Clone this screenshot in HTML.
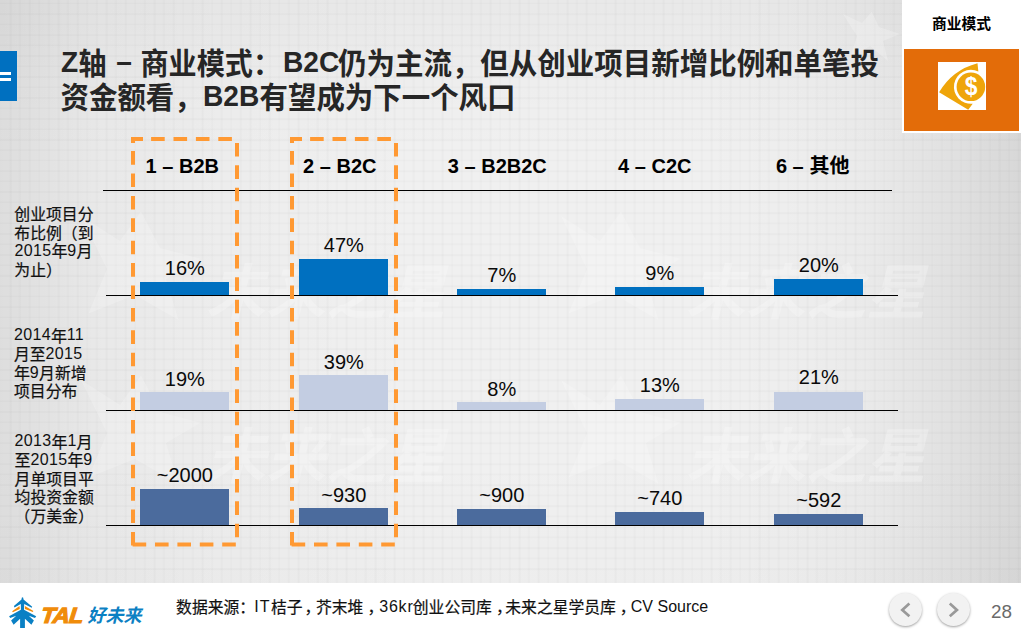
<!DOCTYPE html>
<html lang="zh-CN">
<head>
<meta charset="utf-8">
<title>Z轴 – 商业模式</title>
<style>
html,body{margin:0;padding:0;background:#fff;}
body{width:1021px;height:638px;overflow:hidden;font-family:"Liberation Sans",sans-serif;}
#stage{position:relative;width:1021px;height:638px;overflow:hidden;
  background:
   linear-gradient(90deg,rgba(0,0,0,.08) 0,rgba(0,0,0,.032) 100px,rgba(0,0,0,.014) 200px,rgba(0,0,0,0) 420px,rgba(0,0,0,0) 700px,rgba(0,0,0,.01) 800px,rgba(0,0,0,.025) 860px,rgba(0,0,0,.06) 940px,rgba(0,0,0,.1) 1021px),
   linear-gradient(180deg,rgba(0,0,0,.03) 0,rgba(0,0,0,.008) 90px,rgba(0,0,0,0) 160px,rgba(0,0,0,0) 450px,rgba(0,0,0,.012) 583px),
   #f0f0f0;}
#grid{position:absolute;left:0;top:0;width:1021px;height:583px;
  background-image:
   repeating-linear-gradient(90deg,rgba(0,0,0,0) 0,rgba(0,0,0,0) 7.6px,rgba(0,0,0,.021) 8.4px,rgba(0,0,0,.021) 9.603px),
   repeating-linear-gradient(180deg,rgba(0,0,0,0) 0,rgba(0,0,0,0) 8.3px,rgba(0,0,0,.021) 9.2px,rgba(0,0,0,.021) 10.465px);
  background-position:1.6px 0,0 -5.9px;}
h1{margin:0;padding:0;font-size:inherit;font-weight:inherit;}
.t{position:absolute;line-height:0;white-space:pre;color:#000;}
.t.b{font-weight:bold;}
.t.v{color:#0a0a0a;}
.ln{position:absolute;height:1.3px;background:#000;}
.bar{position:absolute;}
#footer{position:absolute;left:0;top:583px;width:1021px;height:55px;background:#fff;}
#tr{position:absolute;left:902px;top:0;width:119px;height:133px;background:#fff;}
#tro{position:absolute;left:904px;top:49px;width:115px;height:82px;background:#E36C09;}
#trw{position:absolute;left:938px;top:62px;width:48px;height:48px;background:#fff;}
#lb{position:absolute;left:0;top:51px;width:17px;height:50px;background:#0070C0;}
#lb i{position:absolute;left:0;width:11px;height:3px;background:#fff;}
.nav{position:absolute;top:593.2px;width:33px;height:33px;border-radius:50%;background:#f2f2f2;box-shadow:0 1px 2.5px rgba(0,0,0,.38);}
svg{position:absolute;left:0;top:0;overflow:visible;}
svg text{font-family:"Liberation Sans","Noto Sans CJK SC",sans-serif;}
</style>
</head>
<body>
<div id="stage">
<!-- background: paper grid + faint watermark -->
<div id="grid"></div>
<svg id="wm" width="1021" height="583" viewBox="0 0 1021 583" aria-hidden="true">
<defs><polygon id="wms" points="1,3 40,28 61,-1.5 80,35 120.5,45.7 86,66 98.5,107 55,82 8.5,100.5 27,56"/><text id="wmt" x="126" y="100.8" font-size="60" font-weight="bold" font-style="italic" textLength="240" lengthAdjust="spacingAndGlyphs">未来之星</text></defs>
<g fill="#fff">
<use href="#wms" x="80" y="213" opacity=".2"/><use href="#wmt" x="80" y="213" opacity=".26"/>
<use href="#wms" x="560" y="213" opacity=".2"/><use href="#wmt" x="560" y="213" opacity=".26"/>
<use href="#wms" x="80" y="377" opacity=".2"/><use href="#wmt" x="80" y="377" opacity=".26"/>
<use href="#wms" x="560" y="377" opacity=".2"/><use href="#wmt" x="560" y="377" opacity=".26"/>
<polygon opacity=".22" points="871.7,11.7 879,27 900,34 883,41 888,61 870,46 850,58 857,36 843,14 862,23"/>
</g>
</svg>
<!-- header: side tab, title, section tag -->
<header>
<div id="lb"><i style="top:21px"></i><i style="top:27px"></i></div>
<h1 aria-label="Z轴 – 商业模式：B2C仍为主流，但从创业项目新增比例和单笔投资金额看，B2B有望成为下一个风口">
<span class="t b" style="left:60.9px;top:62.34px;font-size:29.6px;transform-origin:0 50%;transform:scaleX(0.95);color:#262626;">Z</span>
<span class="t b" style="left:123.6px;top:62.34px;font-size:29.6px;transform-origin:50% 50%;transform:translateX(-50%) scaleX(0.95);color:#262626;">–</span>
<span class="t b" style="left:282.65px;top:62.34px;font-size:29.6px;transform-origin:0 50%;transform:scaleX(0.95);color:#262626;">B2C</span>
<span class="t b" style="left:203.4px;top:96.04px;font-size:29.6px;transform-origin:0 50%;transform:scaleX(0.95);color:#262626;">B2B</span>
</h1>
<div id="tr"></div><div id="tro"></div><div id="trw"></div>
<svg id="icon" width="1021" height="638" viewBox="0 0 1021 638" aria-hidden="true">
<g transform="translate(938,62)" fill="#EFA50A">
<path d="M1.1 30.3Q14.3 7.8 39.5 1.2L40.35 9.5A17 17 0 1 0 34.7 41.7L30.2 47.8Z"/>
<circle cx="32.9" cy="24.8" r="14.3"/>
</g>
</svg>
<span class="t b" style="left:970.9px;top:86.3px;font-size:26.5px;color:#fff;transform:translateX(-50%) scaleX(.86)">$</span>
<svg id="g-head" width="1021" height="638" viewBox="0 0 1021 638">
<g fill="#262626" font-weight="bold" font-size="29.6">
<text x="78.5" y="74.3" textLength="28.1" lengthAdjust="spacingAndGlyphs">轴</text>
<text x="140.5" y="74.3" textLength="140.5" lengthAdjust="spacingAndGlyphs">商业模式：</text>
<text x="338" y="74.3" textLength="541" lengthAdjust="spacingAndGlyphs">仍为主流，但从创业项目新增比例和单笔投</text>
<text x="60.5" y="108.1" textLength="142.2" lengthAdjust="spacingAndGlyphs">资金额看，</text>
<text x="259.5" y="108.1" textLength="256" lengthAdjust="spacingAndGlyphs">有望成为下一个风口</text>
</g>
<text x="932" y="29.4" fill="#000" font-weight="bold" font-size="14.7" textLength="59" lengthAdjust="spacingAndGlyphs">商业模式</text>
</svg>
</header>
<!-- chart -->
<main>
<div class="ln" style="left:103px;top:189.9px;width:789px"></div>
<div class="ln" style="left:106.3px;top:294.9px;width:791.7px"></div>
<div class="ln" style="left:106.3px;top:409.9px;width:791.7px"></div>
<div class="ln" style="left:106.3px;top:524.9px;width:791.7px"></div>
<span class="t b" style="left:182.3px;top:165.87px;font-size:20px;transform:translateX(-50%);">1 – B2B</span>
<span class="t b" style="left:339.8px;top:165.87px;font-size:20px;transform:translateX(-50%);">2 – B2C</span>
<span class="t b" style="left:497.3px;top:165.87px;font-size:20px;transform:translateX(-50%);">3 – B2B2C</span>
<span class="t b" style="left:654.8px;top:165.87px;font-size:20px;transform:translateX(-50%);">4 – C2C</span>
<span class="t b" style="left:775.9px;top:165.87px;font-size:20px;">6 – </span>
<div class="bar" style="left:140px;top:282px;width:89px;height:13px;background:#0070C0"></div>
<span class="t v" style="left:184.8px;top:267.87px;font-size:20px;transform:translateX(-50%);">16%</span>
<div class="bar" style="left:299px;top:259px;width:89px;height:36px;background:#0070C0"></div>
<span class="t v" style="left:343.8px;top:244.87px;font-size:20px;transform:translateX(-50%);">47%</span>
<div class="bar" style="left:457px;top:289px;width:89px;height:6px;background:#0070C0"></div>
<span class="t v" style="left:501.8px;top:275.37px;font-size:20px;transform:translateX(-50%);">7%</span>
<div class="bar" style="left:615px;top:287px;width:89px;height:8px;background:#0070C0"></div>
<span class="t v" style="left:659.8px;top:273.07px;font-size:20px;transform:translateX(-50%);">9%</span>
<div class="bar" style="left:774px;top:279px;width:89px;height:16px;background:#0070C0"></div>
<span class="t v" style="left:818.8px;top:265.17px;font-size:20px;transform:translateX(-50%);">20%</span>
<div class="bar" style="left:140px;top:392px;width:89px;height:18px;background:#C3CDE2"></div>
<span class="t v" style="left:184.8px;top:378.87px;font-size:20px;transform:translateX(-50%);">19%</span>
<div class="bar" style="left:299px;top:375px;width:89px;height:35px;background:#C3CDE2"></div>
<span class="t v" style="left:343.8px;top:361.97px;font-size:20px;transform:translateX(-50%);">39%</span>
<div class="bar" style="left:457px;top:402px;width:89px;height:8px;background:#C3CDE2"></div>
<span class="t v" style="left:501.8px;top:388.67px;font-size:20px;transform:translateX(-50%);">8%</span>
<div class="bar" style="left:615px;top:399px;width:89px;height:11px;background:#C3CDE2"></div>
<span class="t v" style="left:659.8px;top:384.77px;font-size:20px;transform:translateX(-50%);">13%</span>
<div class="bar" style="left:774px;top:392px;width:89px;height:18px;background:#C3CDE2"></div>
<span class="t v" style="left:818.8px;top:376.97px;font-size:20px;transform:translateX(-50%);">21%</span>
<div class="bar" style="left:140px;top:489px;width:89px;height:36px;background:#4B6B9D"></div>
<span class="t v" style="left:184.8px;top:475.07px;font-size:20px;transform:translateX(-50%);">~2000</span>
<div class="bar" style="left:299px;top:508px;width:89px;height:17px;background:#4B6B9D"></div>
<span class="t v" style="left:343.8px;top:494.77px;font-size:20px;transform:translateX(-50%);">~930</span>
<div class="bar" style="left:457px;top:509px;width:89px;height:16px;background:#4B6B9D"></div>
<span class="t v" style="left:501.8px;top:494.77px;font-size:20px;transform:translateX(-50%);">~900</span>
<div class="bar" style="left:615px;top:512px;width:89px;height:13px;background:#4B6B9D"></div>
<span class="t v" style="left:659.8px;top:497.97px;font-size:20px;transform:translateX(-50%);">~740</span>
<div class="bar" style="left:774px;top:514px;width:89px;height:11px;background:#4B6B9D"></div>
<span class="t v" style="left:818.8px;top:499.97px;font-size:20px;transform:translateX(-50%);">~592</span>
<span class="t r" style="left:14.5px;top:251.16px;font-size:16px;color:#111;letter-spacing:.35px;">2015</span>
<span class="t r" style="left:67.29px;top:251.16px;font-size:16px;color:#111;letter-spacing:.35px;">9</span>
<span class="t r" style="left:14px;top:335.46px;font-size:16px;color:#111;letter-spacing:.35px;">2014</span>
<span class="t r" style="left:66.79px;top:335.46px;font-size:16px;color:#111;letter-spacing:.35px;">11</span>
<span class="t r" style="left:45.6px;top:354.06px;font-size:16px;color:#111;letter-spacing:.35px;">2015</span>
<span class="t r" style="left:29.8px;top:372.66px;font-size:16px;color:#111;letter-spacing:.35px;">9</span>
<span class="t r" style="left:14.6px;top:441.36px;font-size:16px;color:#111;letter-spacing:.35px;">2013</span>
<span class="t r" style="left:67.39px;top:441.36px;font-size:16px;color:#111;letter-spacing:.35px;">1</span>
<span class="t r" style="left:30.4px;top:459.96px;font-size:16px;color:#111;letter-spacing:.35px;">2015</span>
<span class="t r" style="left:83.19px;top:459.96px;font-size:16px;color:#111;letter-spacing:.35px;">9</span>
<svg id="g-chart" width="1021" height="638" viewBox="0 0 1021 638">
<text x="809.5" y="173.3" fill="#000" font-weight="bold" font-size="20" textLength="40" lengthAdjust="spacingAndGlyphs">其他</text>
<g fill="#111" stroke="#111" stroke-width="0.22" font-size="16">
<text x="14.3" y="220.1" textLength="79.2" lengthAdjust="spacingAndGlyphs">创业项目分</text>
<text x="14.3" y="238.7" textLength="79.2" lengthAdjust="spacingAndGlyphs">布比例（到</text>
<text x="51.5" y="257.3">年</text>
<text x="76.5" y="257.3">月</text>
<text x="14.3" y="275.9" textLength="47.5" lengthAdjust="spacingAndGlyphs">为止）</text>
<text x="51" y="341.6">年</text>
<text x="14" y="360.2" textLength="31.7" lengthAdjust="spacingAndGlyphs">月至</text>
<text x="14" y="378.8">年</text>
<text x="39.05" y="378.8" textLength="47.5" lengthAdjust="spacingAndGlyphs">月新增</text>
<text x="14" y="397.4" textLength="63.4" lengthAdjust="spacingAndGlyphs">项目分布</text>
<text x="51.6" y="447.5">年</text>
<text x="76.6" y="447.5">月</text>
<text x="14.6" y="466.1">至</text>
<text x="67.4" y="466.1">年</text>
<text x="14.6" y="484.7" textLength="79.2" lengthAdjust="spacingAndGlyphs">月单项目平</text>
<text x="14.6" y="503.3" textLength="79.2" lengthAdjust="spacingAndGlyphs">均投资金额</text>
<text x="14.6" y="521.9" textLength="79.2" lengthAdjust="spacingAndGlyphs">（万美金）</text>
</g>
</svg>
<svg id="dash" width="1021" height="638" viewBox="0 0 1021 638" aria-hidden="true">
<path d="M131 139H143M151.1 139H164.7M173.5 139H187.1M195.9 139H209.5M218.3 139H231.9M237 142.9V156.5M237 165.3V178.9M237 187.7V201.3M237 210.1V223.7M237 232.5V246.1M237 254.9V268.5M237 277.3V290.9M237 299.7V313.3M237 322.1V335.7M237 344.5V358.1M237 366.9V380.5M237 389.3V402.9M237 411.7V425.3M237 434.1V447.7M237 456.5V470.1M237 478.9V492.5M237 501.3V514.9M237 523.7V537.3M133 137V143M133 151.1V164.7M133 173.5V187.1M133 195.9V209.5M133 218.3V231.9M133 240.7V254.3M133 263.1V276.7M133 285.5V299.1M133 307.9V321.5M133 330.3V343.9M133 352.7V366.3M133 375.1V388.7M133 397.5V411.1M133 419.9V433.5M133 442.3V455.9M133 464.7V478.3M133 487.1V500.7M133 509.5V523.1M133 531.9V545.5M222.2 544.5H235.8M199.8 544.5H213.4M177.4 544.5H191M155 544.5H168.6M132.6 544.5H146.2" fill="none" stroke="#FF9933" stroke-width="4"/>
<path d="M290 139H302M310.1 139H323.7M332.5 139H346.1M354.9 139H368.5M377.3 139H390.9M396 142.9V156.5M396 165.3V178.9M396 187.7V201.3M396 210.1V223.7M396 232.5V246.1M396 254.9V268.5M396 277.3V290.9M396 299.7V313.3M396 322.1V335.7M396 344.5V358.1M396 366.9V380.5M396 389.3V402.9M396 411.7V425.3M396 434.1V447.7M396 456.5V470.1M396 478.9V492.5M396 501.3V514.9M396 523.7V537.3M292 137V143M292 151.1V164.7M292 173.5V187.1M292 195.9V209.5M292 218.3V231.9M292 240.7V254.3M292 263.1V276.7M292 285.5V299.1M292 307.9V321.5M292 330.3V343.9M292 352.7V366.3M292 375.1V388.7M292 397.5V411.1M292 419.9V433.5M292 442.3V455.9M292 464.7V478.3M292 487.1V500.7M292 509.5V523.1M292 531.9V545.5M381.2 544.5H394.8M358.8 544.5H372.4M336.4 544.5H350M314 544.5H327.6M291.6 544.5H305.2" fill="none" stroke="#FF9933" stroke-width="4"/>
</svg>
</main>
<!-- footer: logo, source line, pager -->
<footer>
<div id="footer"></div>
<svg id="logo" width="1021" height="638" viewBox="0 0 1021 638" aria-hidden="true">
<path fill="#0A80C4" d="M22.5 597.3Q23.5 597.5 23.4 599L23.5 599.6L32.2 606.7L31.7 607.8L24.2 603.9L24 609.8L36.2 616.3L35 618L28.8 615.7L33.9 620.5L31.4 624.7L24.9 618.8V628H20.1V618.8L13.6 624.7L11.1 620.5L16.2 615.7L10.2 618L9.1 616.3L20.9 609.8L20.8 603.9L14.5 607.5L13.9 606.1L21.5 599.6L21.6 599Q21.5 597.5 22.5 597.3Z"/>
<path fill="#F08C0A" d="M19.5 606.1L19.8 608.9L12.8 612.3L12.2 611.2ZM24.9 606.1V608.9L32.8 612L33.4 610.9Z"/>
</svg>
<span class="t" id="tal" style="left:40.9px;top:615.6px;font-size:21.9px;font-weight:bold;font-style:italic;color:#F08C0A;letter-spacing:-0.6px;-webkit-text-stroke:1.2px #F08C0A;transform:scaleX(1.07) skewX(-6deg);transform-origin:0 50%">TAL</span>
<span class="t r" style="left:254.3px;top:607.06px;font-size:16px;color:#111;letter-spacing:1px;">IT</span>
<span class="t r" style="left:379.2px;top:607.06px;font-size:16px;color:#111;letter-spacing:0.8px;">36kr</span>
<span class="t r" style="left:630.8px;top:607.06px;font-size:16px;color:#111;letter-spacing:0px;">CV Source</span>
<div class="nav" style="left:888.5px"></div>
<div class="nav" style="left:937.4px"></div>
<svg id="navi" width="1021" height="638" viewBox="0 0 1021 638" aria-hidden="true">
<path d="M909.4 603.6L902.3 609.9L909.4 616.2" fill="none" stroke="#999" stroke-width="2.7"/>
<path d="M949.8 603.6L956.9 609.9L949.8 616.2" fill="none" stroke="#999" stroke-width="2.7"/>
</svg>
<svg id="g-foot" width="1021" height="638" viewBox="0 0 1021 638">
<text x="87.5" y="622.3" fill="#0B80C3" font-weight="bold" font-style="italic" font-size="18.3" textLength="54" lengthAdjust="spacingAndGlyphs">好未来</text>
<g fill="#111" stroke="#111" stroke-width="0.22" font-size="16">
<text x="176.1" y="613.2" textLength="79" lengthAdjust="spacingAndGlyphs">数据来源：</text>
<text x="271" y="613.2" textLength="31.6" lengthAdjust="spacingAndGlyphs">桔子</text>
<text x="304.5" y="613.2">，</text>
<text x="316" y="613.2" textLength="47.3" lengthAdjust="spacingAndGlyphs">芥末堆</text>
<text x="367.4" y="613.2">，</text>
<text x="412.8" y="613.2" textLength="79" lengthAdjust="spacingAndGlyphs">创业公司库</text>
<text x="495.9" y="613.2">，</text>
<text x="505.3" y="613.2" textLength="110.6" lengthAdjust="spacingAndGlyphs">未来之星学员库</text>
<text x="619.8" y="613.2">，</text>
</g>
<text x="991" y="618.1" fill="#6a6a6a" font-size="19" textLength="21" lengthAdjust="spacingAndGlyphs">28</text>
</svg>
</footer>
</div>
</body>
</html>
